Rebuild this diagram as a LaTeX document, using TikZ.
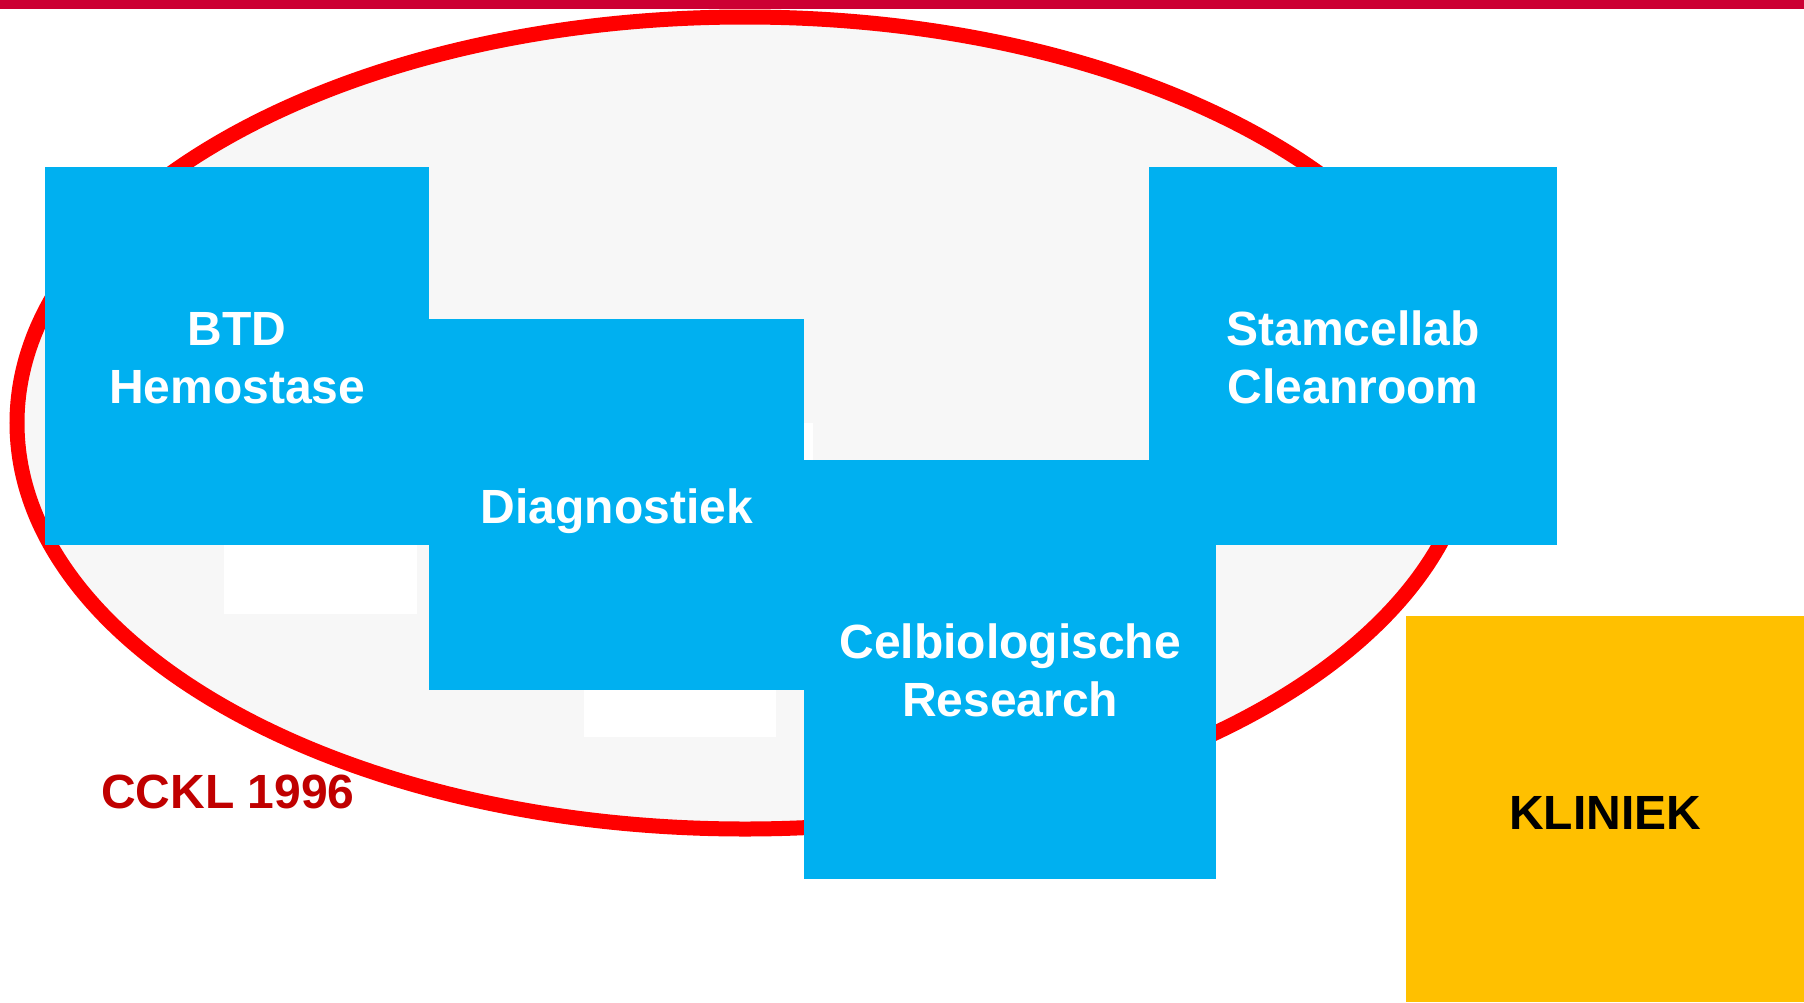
\documentclass[tikz,border=0pt]{standalone}
\usepackage{fontspec}
\setmainfont{Liberation Sans}
\definecolor{topbar}{RGB}{204,0,51}
\definecolor{ringred}{RGB}{255,0,0}
\definecolor{ringfill}{RGB}{247,247,247}
\definecolor{boxblue}{RGB}{0,176,240}
\definecolor{boxyellow}{RGB}{255,192,0}
\definecolor{labelred}{RGB}{192,0,0}
\tikzset{
  unitbox/.style={rectangle, inner sep=0pt, anchor=north west},
  bluebox/.style={unitbox, fill=boxblue},
  yellowbox/.style={unitbox, fill=boxyellow},
  boxtext/.style={inner sep=0pt, align=center, font=\bfseries\fontsize{48}{58}\selectfont},
  gap/.style={fill=white, draw=none}
}
\begin{document}
\begin{tikzpicture}[x=1pt,y=-1pt]
\useasboundingbox (0,0) rectangle (1804,1002);
% ring
\draw[ringred, line width=15pt, fill=ringfill] (745,423) ellipse [x radius=728, y radius=406];
% top bar
\fill[topbar] (0,0) rectangle (1804,9);
% white gaps
\fill[gap] (224,545) rectangle (417,614);
\fill[gap] (584,690) rectangle (776,737);
\fill[gap] (800,423) rectangle (813,460);
% boxes
\node[bluebox, minimum width=384pt, minimum height=378pt] (btd) at (45,167) {};
\node[bluebox, minimum width=375pt, minimum height=371pt] (diag) at (429,319) {};
\node[bluebox, minimum width=408pt, minimum height=378pt] (stam) at (1149,167) {};
\node[bluebox, minimum width=412pt, minimum height=419pt] (cel) at (804,460) {};
\node[yellowbox, minimum width=398pt, minimum height=386pt] (kli) at (1406,616) {};
% texts
\node[boxtext, text=white, yshift=-2.5pt] (btdt) at (btd.center) {BTD\\Hemostase};
\node[boxtext, text=white, yshift=-6pt] (diagt) at (diag.center) {Diagnostiek};
\node[boxtext, text=white, yshift=-1pt] (stamt) at (stam.center) {Stamcellab\\Cleanroom};
\node[boxtext, text=white, yshift=-1pt] (celt) at (cel.center) {Celbiologische\\Research};
\node[boxtext, text=black, yshift=-3.5pt] (klit) at (kli.center) {KLINIEK};
% label
\node[boxtext, text=labelred, anchor=west] (cckl) at (101,792) {CCKL 1996};
\end{tikzpicture}
\end{document}
